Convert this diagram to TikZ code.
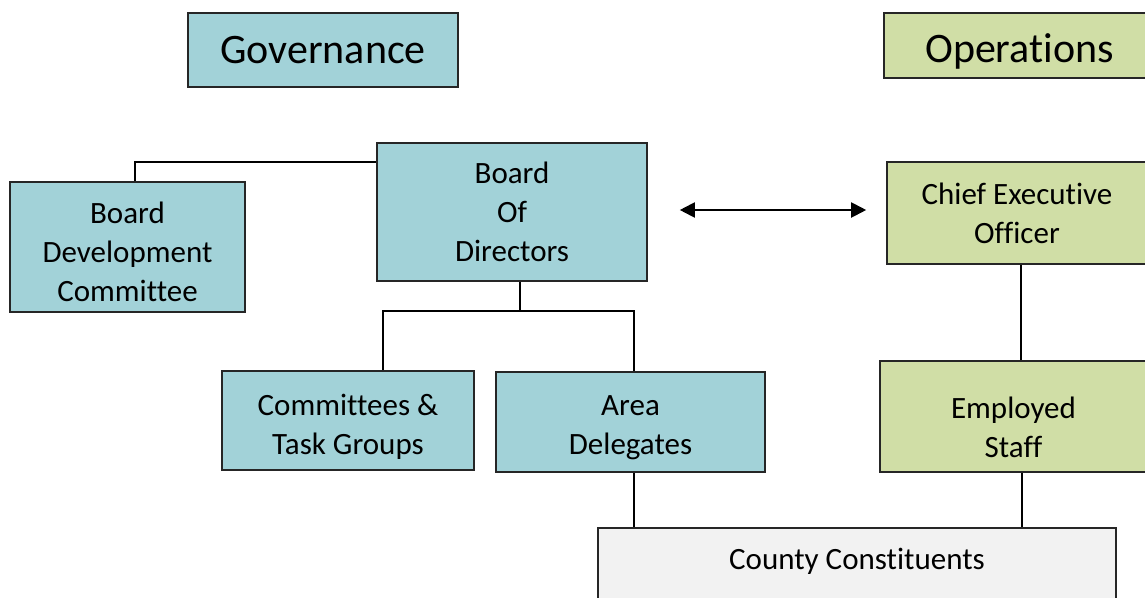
\documentclass[tikz,border=0pt]{standalone}
\usepackage{fontspec}
\setmainfont{Carlito}[Ligatures=NoCommon]
\usetikzlibrary{arrows.meta}
\definecolor{govblue}{RGB}{162,210,216}
\definecolor{opsgreen}{RGB}{208,222,166}
\definecolor{basegray}{RGB}{242,242,242}
\begin{document}
\begin{tikzpicture}[x=1pt,y=-1pt,
  box/.style={draw=black!85, line width=1.6pt, inner sep=0pt, align=center,
              font=\fontsize{31}{39}\selectfont},
  govbox/.style={box, fill=govblue},
  opsbox/.style={box, fill=opsgreen},
  title/.style={font=\fontsize{42}{50}\selectfont},
  link/.style={draw=black, line width=1.4pt},
  twoway/.style={draw=black, line width=2pt, {Triangle[length=15pt,width=15pt]}-{Triangle[length=15pt,width=15pt]}}]
\useasboundingbox (0,0) rectangle (1145,597);

% section headings
\node[govbox, title, minimum width=270pt, minimum height=74pt] (gov) at (323,50) {Governance};
\node[opsbox, title, minimum width=271pt, minimum height=65pt] (ops) at (1019.5,45.5)
  {\rule{0pt}{41pt}Operations};

% governance side
\node[govbox, minimum width=235pt, minimum height=130pt] (bdc) at (127.5,247)
  {\rule{0pt}{31pt}Board\\Development\\Committee};
\node[govbox, minimum width=270pt, minimum height=138pt] (bod) at (512,212)
  {Board\\Of\\Directors};
\node[govbox, minimum width=252pt, minimum height=99pt] (ctg) at (348,420.5)
  {\rule{0pt}{33pt}Committees \&\\Task Groups};
\node[govbox, minimum width=269pt, minimum height=100pt] (area) at (630.5,422)
  {\rule{0pt}{31pt}Area\\Delegates};

% operations side
\node[opsbox, minimum width=260pt, minimum height=102pt] (ceo) at (1017,213)
  {Chief Executive\\Officer};
\node[opsbox, minimum width=267pt, minimum height=111pt] (staff) at (1013.5,416.5)
  {\rule{0pt}{44pt}Employed\\Staff};

% constituents along the bottom
\node[box, fill=basegray, anchor=north, minimum width=518pt,
      text height=42pt, text depth=60pt] (county) at (857,527) {County Constituents};

% connectors
\coordinate (bus) at (520,311);
\draw[link] (bdc.north -| 135,0) |- (bod.west |- 0,162);
\draw[link] (bod.south -| bus) -- (bus);
\draw[link] (ctg.north -| 383,0) |- (bus) -| (area.north -| 634,0);
\draw[link] (area.south -| 634,0) -- (county.north -| 634,0);
\draw[link] (ceo.south -| 1021,0) -- (staff.north -| 1021,0);
\draw[link] (staff.south -| 1022,0) -- (county.north -| 1022,0);
\draw[twoway, shorten <=32pt, shorten >=20pt] (bod.east |- 0,210) -- (ceo.west |- 0,210);
\end{tikzpicture}
\end{document}
